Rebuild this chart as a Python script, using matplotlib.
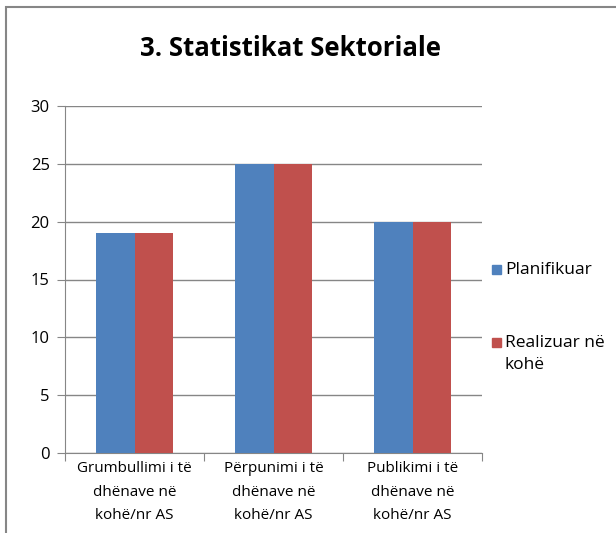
import matplotlib.pyplot as plt
import numpy as np
from matplotlib.patches import Rectangle

# data
categories = ["Grumbullimi i të\ndhënave në\nkohë/nr AS",
              "Përpunimi i të\ndhënave në\nkohë/nr AS",
              "Publikimi i të\ndhënave në\nkohë/nr AS"]
planifikuar = [19, 25, 20]
realizuar = [19, 25, 20]
series_names = ["Planifikuar", "Realizuar në\nkohë"]
series_colors = ['#4F81BD', '#C0504D']
yticks = [0, 5, 10, 15, 20, 25, 30]

plt.rcParams['font.family'] = ['Open Sans', 'DejaVu Sans']

W, H = 616, 533
fig = plt.figure(figsize=(W / 100, H / 100), dpi=100)

# outer chart border (cut at right/bottom)
fig.patches.append(Rectangle((6 / W, -0.1), 1.2, (H - 7) / H + 0.1,
                             transform=fig.transFigure, fill=False,
                             edgecolor='#868686', linewidth=1.5))

ax = fig.add_axes([65 / W, 1 - 453 / H, (482 - 65) / W, (453 - 106) / H])
x = np.arange(len(categories))
bw = 0.277
ax.bar(x - bw / 2, planifikuar, bw, color=series_colors[0], zorder=3)
ax.bar(x + bw / 2, realizuar, bw, color=series_colors[1], zorder=3)

ax.set_xlim(-0.5, 2.5)
ax.set_ylim(0, 30)
ax.set_yticks(yticks)
ax.yaxis.grid(True, color='#868686', linewidth=1, zorder=0)
for s in ['top', 'right']:
    ax.spines[s].set_visible(False)
for s in ['left', 'bottom']:
    ax.spines[s].set_color('#868686')
ax.set_xticks([-0.5, 0.5, 1.5, 2.5])
ax.set_xticklabels([])
ax.set_xticks(x, minor=True)
ax.set_xticklabels(categories, minor=True, fontsize=11, linespacing=1.75)
ax.tick_params(axis='x', which='minor', length=0, pad=6)
ax.tick_params(axis='x', which='major', length=6, color='#868686', direction='out')
ax.tick_params(axis='y', length=6, color='#868686', labelsize=12, pad=5)

fig.text(290 / W, 1 - 49 / H, "3. Statistikat Sektoriale", ha='center', va='center',
         fontsize=18.5, fontweight='bold')

# legend, drawn by hand so the swatch sits on the first text line
legend_y = [269, 342]
for name, col, ly in zip(series_names, series_colors, legend_y):
    fig.patches.append(Rectangle((492 / W, 1 - (ly + 4.5) / H), 9 / W, 9 / H,
                                 transform=fig.transFigure, color=col))
    fig.text(505 / W, 1 - (ly - 7) / H, name, ha='left', va='top',
             fontsize=12.5, linespacing=1.5)

fig.savefig('out.png', dpi=100)
